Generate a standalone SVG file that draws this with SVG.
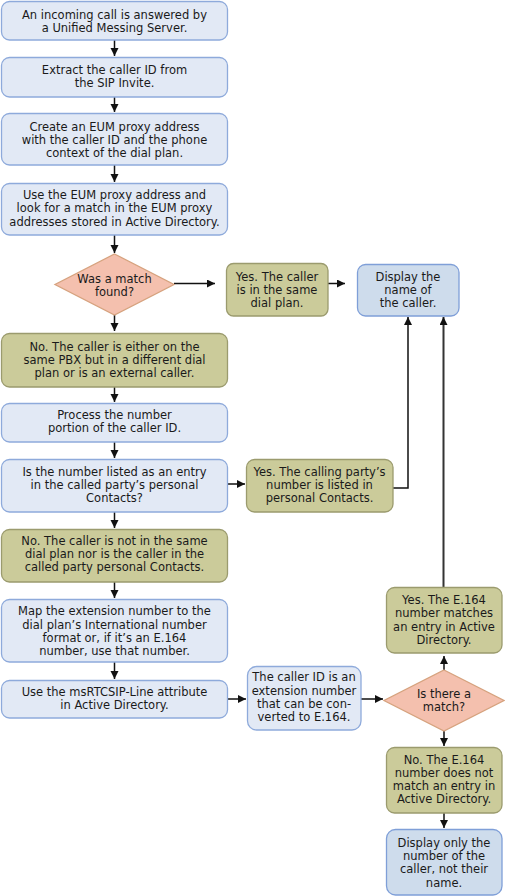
<svg xmlns="http://www.w3.org/2000/svg" width="505" height="896" viewBox="0 0 505 896">
<style>
text{font-family:"DejaVu Sans",Verdana,sans-serif;font-size:11.5px;fill:#1a1a1a;text-anchor:middle}
.b{fill:#e2e9f5;stroke:#8eaadb;stroke-width:1.3}
.o{fill:#cbcb9a;stroke:#9b9b6e;stroke-width:1.3}
.d{fill:#f4c0ae;stroke:#d6a27e;stroke-width:1.3}
.g{fill:#cedcec;stroke:#7f9fd8;stroke-width:1.3}
.c{fill:none;stroke:#111;stroke-width:1.5}
.c2{fill:none;stroke:#333;stroke-width:2}
</style>
<defs>
<marker id="a" markerUnits="userSpaceOnUse" markerWidth="9" markerHeight="9" refX="8" refY="4" orient="auto"><path d="M0,0L8,4L0,8z" fill="#111"/></marker>
</defs>
<g id="connectors">
<path class="c" d="M114.5,40V56" marker-end="url(#a)"/>
<path class="c" d="M114.5,97V112" marker-end="url(#a)"/>
<path class="c" d="M114.5,165V182" marker-end="url(#a)"/>
<path class="c" d="M114.5,235V253" marker-end="url(#a)"/>
<path class="c" d="M174,283.5H215" marker-end="url(#a)"/>
<path class="c" d="M328,283.5H345" marker-end="url(#a)"/>
<path class="c" d="M114.5,315V331" marker-end="url(#a)"/>
<path class="c" d="M114.5,387V402" marker-end="url(#a)"/>
<path class="c" d="M114.5,442V458" marker-end="url(#a)"/>
<path class="c" d="M228,484H245" marker-end="url(#a)"/>
<path class="c" d="M393,488H408V317" marker-end="url(#a)"/>
<path class="c" d="M114.5,512V528" marker-end="url(#a)"/>
<path class="c" d="M114.5,582V598" marker-end="url(#a)"/>
<path class="c" d="M114.5,662V679" marker-end="url(#a)"/>
<path class="c" d="M228,699H246" marker-end="url(#a)"/>
<path class="c" d="M361,699H383" marker-end="url(#a)"/>
<path class="c" d="M444,670V656" marker-end="url(#a)"/>
<path class="c2" d="M443.5,587V317" marker-end="url(#a)"/>
<path class="c" d="M444,731V746" marker-end="url(#a)"/>
<path class="c" d="M444,813V828" marker-end="url(#a)"/>
</g>
<g id="n1"><rect class="b" x="1.5" y="1.5" width="226" height="38.5" rx="8"/><text x="114.5" y="19">An incoming call is answered by</text><text x="114.5" y="32">a Unified Messing Server.</text></g>
<g id="n2"><rect class="b" x="1.5" y="57.5" width="226" height="39.5" rx="8"/><text x="114.5" y="74">Extract the caller ID from</text><text x="114.5" y="87">the SIP Invite.</text></g>
<g id="n3"><rect class="b" x="1.5" y="113.5" width="226" height="51.5" rx="8"/><text x="114.5" y="131">Create an EUM proxy address</text><text x="114.5" y="144">with the caller ID and the phone</text><text x="114.5" y="157">context of the dial plan.</text></g>
<g id="n4"><rect class="b" x="1.5" y="183.5" width="226" height="51.5" rx="8"/><text x="114.5" y="199">Use the EUM proxy address and</text><text x="114.5" y="212">look for a match in the EUM proxy</text><text x="114.5" y="225.5">addresses stored in Active Directory.</text></g>
<g id="d1"><path class="d" d="M114.5,254L174,284.5L114.5,315L55,284.5z"/><text x="114.5" y="283">Was a match</text><text x="114.5" y="296">found?</text></g>
<g id="y1"><rect class="o" x="226.5" y="263.5" width="101.5" height="52.5" rx="7"/><text x="277" y="281">Yes. The caller</text><text x="277" y="294">is in the same</text><text x="277" y="307">dial plan.</text></g>
<g id="disp"><rect class="g" x="357.5" y="264.5" width="101.5" height="51.5" rx="8"/><text x="408" y="281">Display the</text><text x="408" y="294">name of</text><text x="408" y="307">the caller.</text></g>
<g id="no1"><rect class="o" x="1.5" y="333.5" width="226" height="53.5" rx="8"/><text x="114.5" y="351">No. The caller is either on the</text><text x="114.5" y="364">same PBX but in a different dial</text><text x="114.5" y="377">plan or is an external caller.</text></g>
<g id="n5"><rect class="b" x="1.5" y="403.5" width="226" height="38.5" rx="8"/><text x="114.5" y="419">Process the number</text><text x="114.5" y="432">portion of the caller ID.</text></g>
<g id="n6"><rect class="b" x="1.5" y="459.5" width="226" height="52.5" rx="8"/><text x="114.5" y="476">Is the number listed as an entry</text><text x="114.5" y="489">in the called party’s personal</text><text x="114.5" y="502">Contacts?</text></g>
<g id="y2"><rect class="o" x="246.5" y="459.5" width="146.5" height="52.5" rx="8"/><text x="319.5" y="476">Yes. The calling party’s</text><text x="319.5" y="489">number is listed in</text><text x="319.5" y="502">personal Contacts.</text></g>
<g id="no2"><rect class="o" x="1.5" y="529.5" width="226" height="52.5" rx="8"/><text x="114.5" y="545">No. The caller is not in the same</text><text x="114.5" y="558">dial plan nor is the caller in the</text><text x="114.5" y="571">called party personal Contacts.</text></g>
<g id="n7"><rect class="b" x="1.5" y="599.5" width="226" height="62.5" rx="8"/><text x="114.5" y="615">Map the extension number to the</text><text x="114.5" y="628.5">dial plan’s International number</text><text x="114.5" y="642">format or, if it’s an E.164</text><text x="114.5" y="655">number, use that number.</text></g>
<g id="n8"><rect class="b" x="1.5" y="680.5" width="226" height="37.5" rx="8"/><text x="114.5" y="696">Use the msRTCSIP-Line attribute</text><text x="114.5" y="709">in Active Directory.</text></g>
<g id="n9"><rect class="b" x="247.5" y="666.5" width="113.5" height="63.5" rx="9"/><text x="304" y="681">The caller ID is an</text><text x="304" y="694.5">extension number</text><text x="304" y="708">that can be con-</text><text x="304" y="721">verted to E.164.</text></g>
<g id="d2"><path class="d" d="M444,670L504,700.5L444,731L384,700.5z"/><text x="444" y="698">Is there a</text><text x="444" y="711">match?</text></g>
<g id="y3"><rect class="o" x="386.5" y="587.5" width="115.5" height="65.5" rx="8"/><text x="444" y="604">Yes. The E.164</text><text x="444" y="617">number matches</text><text x="444" y="631">an entry in Active</text><text x="444" y="644">Directory.</text></g>
<g id="no3"><rect class="o" x="386.5" y="747.5" width="115.5" height="65.5" rx="8"/><text x="444" y="764">No. The E.164</text><text x="444" y="777">number does not</text><text x="444" y="790">match an entry in</text><text x="444" y="803">Active Directory.</text></g>
<g id="disp2"><rect class="g" x="386.5" y="829.5" width="115.5" height="65.5" rx="9"/><text x="444" y="847">Display only the</text><text x="444" y="860">number of the</text><text x="444" y="873">caller, not their</text><text x="444" y="887">name.</text></g>
</svg>
